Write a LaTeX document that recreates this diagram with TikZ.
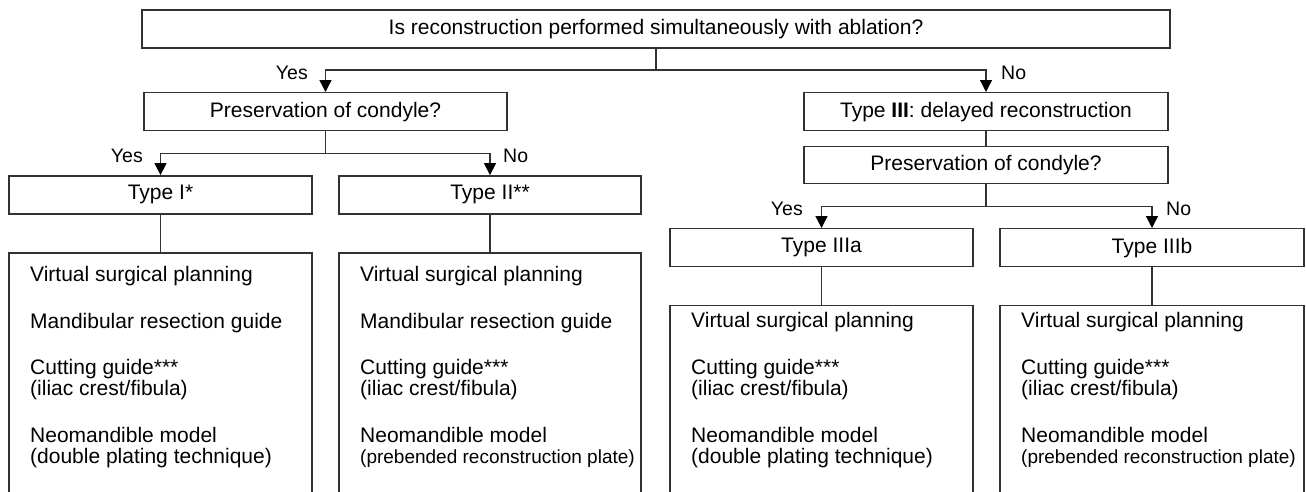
\documentclass[tikz,border=0pt]{standalone}
\usepackage{fontspec}
\setmainfont{Liberation Sans}
\usetikzlibrary{arrows.meta}
\definecolor{lc}{RGB}{50,50,50}
\newcommand\mainsz{\fontsize{21}{24}\selectfont}
\newcommand\lblsz{\fontsize{19.5}{22}\selectfont}
\newcommand\smallsz{\fontsize{19}{22}\selectfont}
\begin{document}
\begin{tikzpicture}[x=1pt,y=-1pt,
  ln/.style={draw=lc, line width=1.4pt},
  arr/.style={-{Triangle[length=12pt,width=12pt,color=black]}},
  box/.style={ln, fill=white, minimum height=38pt, inner sep=0pt, font=\mainsz},
  bigbox/.style={ln, fill=white, minimum height=320pt, inner sep=0pt, anchor=north},
  item/.style={anchor=mid west, inner sep=0pt, font=\mainsz},
  lblL/.style={anchor=mid east, inner sep=0pt, font=\lblsz},
  lblR/.style={anchor=mid west, inner sep=0pt, font=\lblsz}]
\useasboundingbox (0,0) rectangle (1306,491);
\clip (0,0) rectangle (1306,491);
\fill[white] (0,0) rectangle (1306,491);

% boxes
\node[box, minimum width=1028pt] (top) at (656,29) {Is reconstruction performed simultaneously with ablation?};
\node[box, minimum width=363pt] (presL) at (325.5,111.7) {Preservation of condyle?};
\node[box, minimum width=364pt] (typeIII) at (986,111.7) {Type \textbf{III}: delayed reconstruction};
\node[box, minimum width=364pt, minimum height=37pt] (presR) at (986,164.7) {Preservation of condyle?};
\node[box, minimum width=303pt] (t1) at (160.5,194.8) {Type I*};
\node[box, minimum width=302pt] (t2) at (490,194.8) {Type II**};
\node[box, minimum width=303pt] (t3a) at (821.5,247.7) {Type IIIa};
\node[box, minimum width=304pt] (t3b) at (1152,247.7) {Type IIIb};

\node[bigbox, minimum width=303pt] (b1) at (160.5,252.3) {};
\node[bigbox, minimum width=302pt] (b2) at (490,252.3) {};
\node[bigbox, minimum width=303pt] (b3a) at (821.5,305) {};
\node[bigbox, minimum width=304pt] (b3b) at (1152,305) {};

% junctions
\coordinate (j1) at (656,70);
\coordinate (j2) at (325.5,153.3);
\coordinate (j3) at (986,206.7);

% connectors
\draw[ln] (top.south) -- (j1);
\draw[ln,arr] (j1) -| (presL.north);
\draw[ln,arr] (j1) -| (typeIII.north);
\draw[ln] (presL.south) -- (j2);
\draw[ln,arr] (j2) -| (t1.north);
\draw[ln,arr] (j2) -| (t2.north);
\draw[ln] (typeIII.south) -- (presR.north);
\draw[ln] (presR.south) -- (j3);
\draw[ln,arr] (j3) -| (t3a.north);
\draw[ln,arr] (j3) -| (t3b.north);
\draw[ln] (t1.south) -- (b1.north);
\draw[ln] (t2.south) -- (b2.north);
\draw[ln] (t3a.south) -- (b3a.north);
\draw[ln] (t3b.south) -- (b3b.north);

% labels
\node[lblL] (y1) at (308,77) {Yes};
\node[lblR] (n1) at (1001,77) {No};
\node[lblL] (y2) at (143,160) {Yes};
\node[lblR] (n2) at (503,160) {No};
\node[lblL] (y3) at (803,212.5) {Yes};
\node[lblR] (n3) at (1166,212.5) {No};

% box contents
\node[item] (a1) at (30,279) {Virtual surgical planning};
\node[item] (a2) at (30,326) {Mandibular resection guide};
\node[item] (a3) at (30,372) {Cutting guide***};
\node[item] (a4) at (30,392.5) {(iliac crest/fibula)};
\node[item] (a5) at (30,440) {Neomandible model};
\node[item] (a6) at (30,460.5) {(double plating technique)};

\node[item] (c1) at (360,279) {Virtual surgical planning};
\node[item] (c2) at (360,326) {Mandibular resection guide};
\node[item] (c3) at (360,372) {Cutting guide***};
\node[item] (c4) at (360,392.5) {(iliac crest/fibula)};
\node[item] (c5) at (360,440) {Neomandible model};
\node[item, font=\smallsz] (c6) at (360,460.5) {(prebended reconstruction plate)};

\node[item] (d1) at (691,325) {Virtual surgical planning};
\node[item] (d3) at (691,372) {Cutting guide***};
\node[item] (d4) at (691,392.5) {(iliac crest/fibula)};
\node[item] (d5) at (691,440) {Neomandible model};
\node[item] (d6) at (691,460.5) {(double plating technique)};

\node[item] (e1) at (1021,325) {Virtual surgical planning};
\node[item] (e3) at (1021,372) {Cutting guide***};
\node[item] (e4) at (1021,392.5) {(iliac crest/fibula)};
\node[item] (e5) at (1021,440) {Neomandible model};
\node[item, font=\smallsz] (e6) at (1021,460.5) {(prebended reconstruction plate)};
\end{tikzpicture}
\end{document}
